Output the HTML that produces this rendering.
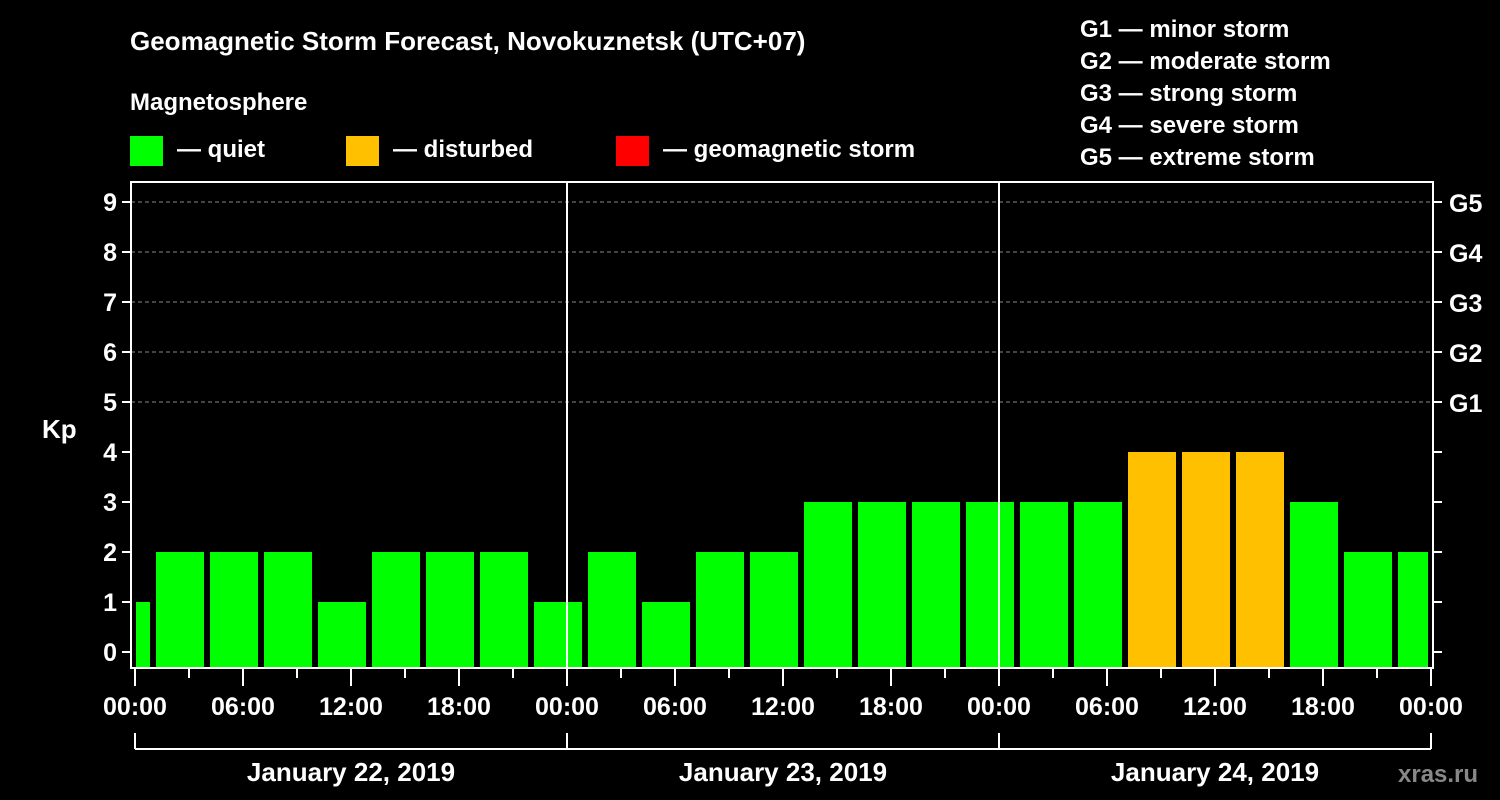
<!DOCTYPE html>
<html><head><meta charset="utf-8"><style>
body{margin:0;background:#000;}
svg{display:block;font-family:"Liberation Sans",sans-serif;font-weight:bold;}
</style></head><body>
<svg id="c" width="1500" height="800" xmlns="http://www.w3.org/2000/svg">
<rect width="1500" height="800" fill="#000"/>
<text x="130" y="50" fill="#fff" font-size="26">Geomagnetic Storm Forecast, Novokuznetsk (UTC+07)</text>
<text x="130" y="110" fill="#fff" font-size="24">Magnetosphere</text>
<g>
<rect x="130" y="136" width="33" height="30" fill="#00ff00"/>
<text x="177" y="157" fill="#fff" font-size="24">— quiet</text>
<rect x="346" y="136" width="33" height="30" fill="#ffc000"/>
<text x="393" y="157" fill="#fff" font-size="24">— disturbed</text>
<rect x="616" y="136" width="33" height="30" fill="#ff0000"/>
<text x="663" y="157" fill="#fff" font-size="24">— geomagnetic storm</text>
</g>
<g fill="#fff" font-size="24">
<text x="1080" y="37">G1 — minor storm</text>
<text x="1080" y="69">G2 — moderate storm</text>
<text x="1080" y="101">G3 — strong storm</text>
<text x="1080" y="133">G4 — severe storm</text>
<text x="1080" y="165">G5 — extreme storm</text>
</g>
<text x="42" y="438" fill="#fff" font-size="26">Kp</text>
<text x="1398" y="782" fill="#888" font-size="24">xras.ru</text>
<g id="plot"></g>
</svg>
<script>
const kpValues=[1,2,2,2,1,2,2,2,1,2,1,2,2,3,3,3,3,3,3,4,4,4,3,2,2];
const yTicks=[0,1,2,3,4,5,6,7,8,9];
const gLabels=["G1","G2","G3","G4","G5"];
const timeLabels=["00:00","06:00","12:00","18:00","00:00","06:00","12:00","18:00","00:00","06:00","12:00","18:00","00:00"];
const dayLabels=["January 22, 2019","January 23, 2019","January 24, 2019"];
const NS="http://www.w3.org/2000/svg";
const L=131,R=1433,T=182,B=668,X0=135,PXH=18;
const y=v=>652-50*v;
const x=h=>X0+h*PXH;
const g=document.getElementById('plot');
function mk(t,a){const e=document.createElementNS(NS,t);for(const k in a)e.setAttribute(k,a[k]);g.appendChild(e);return e;}
// grid
for(let v=5;v<=9;v++){const e=mk('line',{x1:L,x2:R,y1:y(v),y2:y(v),stroke:'#888','stroke-dasharray':'4,3','stroke-width':1});

}
// bars
kpValues.forEach((v,i)=>{let l=x(3*i-1.833),r=l+48;l=Math.max(l,L+5);r=Math.min(r,R-5);
const e=mk('rect',{x:l,y:y(v),width:r-l,height:B-y(v),fill:v>=5?'#ff0000':v>=4?'#ffc000':'#00ff00'});

});
// day separators
for(let d=1;d<3;d++){const e=mk('line',{x1:x(24*d),x2:x(24*d),y1:T,y2:B,stroke:'#fff','stroke-width':2});

}
// frame
const f=mk('rect',{x:L,y:T,width:R-L,height:B-T,fill:'none',stroke:'#fff','stroke-width':2});


// y ticks
yTicks.forEach(v=>{mk('line',{x1:L-9,x2:L,y1:y(v),y2:y(v),stroke:'#fff','stroke-width':2});
mk('line',{x1:R,x2:R+9,y1:y(v),y2:y(v),stroke:'#fff','stroke-width':2});
const t=mk('text',{x:L-14,y:y(v)+9,fill:'#fff','font-size':25,'text-anchor':'end'});t.textContent=v;

});
gLabels.forEach((s,i)=>{const t=mk('text',{x:R+16,y:y(5+i)+10,fill:'#fff','font-size':25});t.textContent=s;

});
// x ticks
for(let h=0;h<=72;h+=3){const major=h%6==0;mk('line',{x1:x(h),x2:x(h),y1:B,y2:B+(major?18:10),stroke:'#fff','stroke-width':2});}
timeLabels.forEach((s,i)=>{const t=mk('text',{x:x(6*i),y:715,fill:'#fff','font-size':25,'text-anchor':'middle'});t.textContent=s;

});
// day bracket
mk('line',{x1:x(0),x2:x(72),y1:749,y2:749,stroke:'#fff','stroke-width':2});
for(let d=0;d<=3;d++)mk('line',{x1:x(24*d),x2:x(24*d),y1:733,y2:749,stroke:'#fff','stroke-width':2});
dayLabels.forEach((s,i)=>{const t=mk('text',{x:x(24*i+12),y:781,fill:'#fff','font-size':26,'text-anchor':'middle'});t.textContent=s;

});
</script>
</body></html>
